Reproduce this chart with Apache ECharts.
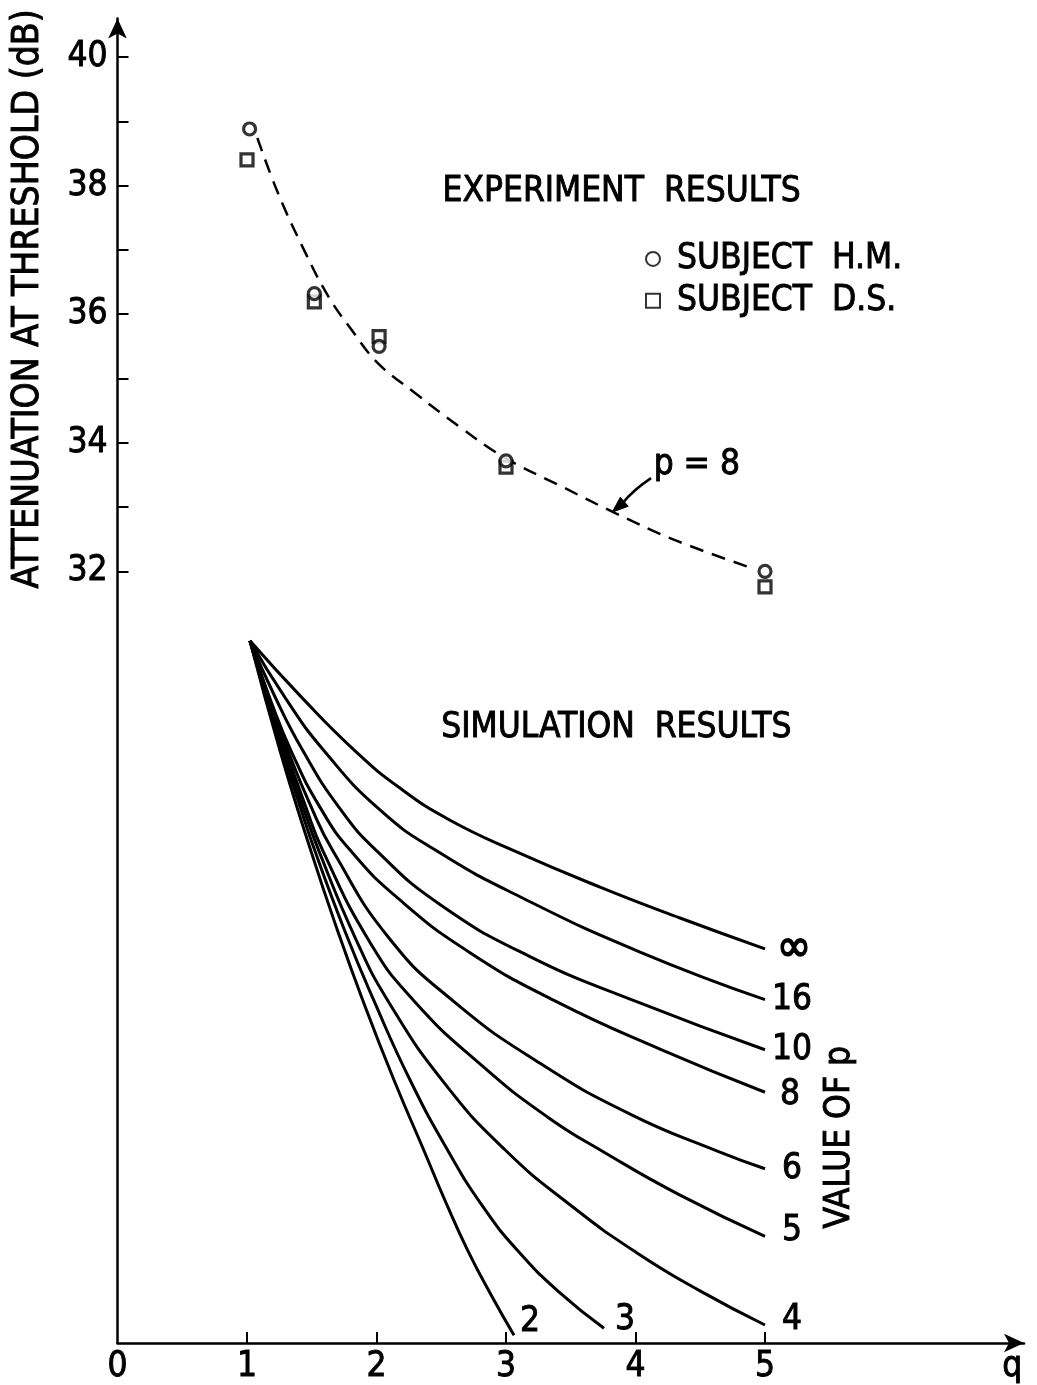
<!DOCTYPE html>
<html>
<head>
<meta charset="utf-8">
<script src="https://cdn.jsdelivr.net/npm/echarts@6/dist/echarts.min.js"></script>
<style>
html,body{margin:0;padding:0;background:#fff;}
#c{width:1037px;height:1385px;}
</style>
</head>
<body>
<div id="c"></div>
<script>
// ---------- axis ticks / labels ----------
const xTickValues  = [1, 2, 3, 4, 5];
const xLabelValues = [0, 1, 2, 3, 4, 5];
const xAxisLetter = 'q';
const xAxisLetterAt = 6.91;
const yTickValues  = [32, 33, 34, 35, 36, 37, 38, 39, 40];
const yLabelValues = [32, 34, 36, 38, 40];
const yAxisTitle = 'ATTENUATION AT THRESHOLD (dB)';

// ---------- experiment results ----------
const subjectHM = [[1.02, 38.88], [1.52, 36.32], [2.02, 35.50], [3.00, 33.72], [5.00, 32.00]];
const subjectDS = [[1.00, 38.40], [1.52, 36.19], [2.02, 35.65], [3.00, 33.62], [5.00, 31.76]];
const fitP8 = [[1.08, 38.74], [1.24, 37.88], [1.44, 37.00], [1.63, 36.27], [1.81, 35.75],
               [2.01, 35.24], [2.30, 34.77], [2.64, 34.25], [2.98, 33.78], [3.44, 33.31],
               [3.84, 32.91], [4.30, 32.49], [4.90, 32.05]];

// ---------- simulation results (value of p) ----------
const simLabels = ['\u221E', '16', '10', '8', '6', '5', '4', '3', '2'];
const simPinf = [[1.023,30.92],[1.413,30.06],[1.834,29.21],[2.181,28.63],[2.568,28.13],[3.069,27.65],[3.726,27.09],[4.344,26.61],[5.0,26.13]];
const simP16  = [[1.023,30.92],[1.293,30.04],[1.595,29.21],[2.027,28.29],[2.467,27.65],[3.108,26.94],[4.035,26.08],[5.0,25.34]];
const simP10  = [[1.023,30.92],[1.216,30.05],[1.432,29.21],[1.718,28.31],[2.004,27.65],[2.490,26.82],[3.185,26.01],[4.019,25.30],[5.0,24.56]];
const simP8   = [[1.023,30.92],[1.178,30.02],[1.340,29.21],[1.564,28.33],[1.803,27.65],[2.181,26.89],[2.722,26.07],[3.378,25.32],[4.189,24.57],[5.0,23.90]];
const simP6   = [[1.023,30.92],[1.178,29.98],[1.317,29.21],[1.486,28.38],[1.664,27.65],[2.104,26.28],[2.598,25.31],[3.263,24.35],[3.958,23.56],[4.637,22.98],[5.0,22.71]];
const simP5   = [[1.023,30.92],[1.162,30.02],[1.301,29.21],[1.448,28.37],[1.587,27.65],[1.950,26.23],[2.290,25.32],[2.799,24.34],[3.317,23.52],[3.764,22.96],[4.344,22.30],[5.0,21.66]];
const simP4   = [[1.023,30.92],[1.154,30.05],[1.286,29.21],[1.425,28.38],[1.556,27.65],[1.834,26.31],[2.089,25.32],[2.529,24.03],[3.0,22.99],[3.494,22.15],[4.012,21.40],[4.498,20.81],[5.0,20.28]];
const simP3   = [[1.023,30.92],[1.147,30.05],[1.270,29.21],[1.394,28.44],[1.525,27.65],[1.757,26.40],[1.981,25.32],[2.259,24.09],[2.552,22.99],[2.822,22.12],[3.093,21.43],[3.417,20.78],[3.757,20.23]];
const simP2   = [[1.023,30.92],[1.255,29.21],[1.494,27.65],[1.695,26.44],[1.896,25.32],[2.135,24.09],[2.367,22.99],[2.537,22.18],[2.707,21.43],[2.884,20.75],[3.062,20.12]];
const simCurves = [simPinf, simP16, simP10, simP8, simP6, simP5, simP4, simP3, simP2];

// ---------- styling ----------
const FONT = "'Liberation Sans Narrow','DejaVu Sans Condensed','Roboto Condensed',Roboto,sans-serif";
const INK = '#000';
const FS = 35;
const FW = 'normal';
const STROKE = 0.9;   // slight outline to thicken the lettering
const txt = {color: INK, fontFamily: FONT, fontWeight: FW, fontSize: FS,
             textBorderColor: INK, textBorderWidth: STROKE};
const simLabelOffsets = [[7,0],[2,0],[2,0],[10,3],[12,0],[12,-5],[12,-5],[6,-8],[1,-13]];
const simLabelSizes = [46, FS, FS, FS, FS, FS, FS, FS, FS];

const chart = echarts.init(document.getElementById('c'), null, {renderer: 'canvas'});

const simSeries = simCurves.map((d, i) => ({
  type: 'line', name: 'p = ' + simLabels[i], data: d,
  smooth: 0.5, symbol: 'none', silent: true,
  lineStyle: {color: INK, width: 3},
  endLabel: Object.assign({show: true, formatter: simLabels[i], distance: 5, offset: simLabelOffsets[i]},
                          txt, {fontSize: simLabelSizes[i], textBorderWidth: i === 0 ? 1.6 : STROKE})
}));

chart.setOption({
  animation: false,
  backgroundColor: '#fff',
  grid: {left: 117.5, right: 13, top: 18.4, bottom: 42, containLabel: false},
  xAxis: {
    type: 'value', min: 0, max: 7, interval: 1,
    splitLine: {show: false},
    axisLine: {show: true, onZero: false, symbol: ['none', 'arrow'], symbolSize: [14, 20],
               lineStyle: {color: INK, width: 2.5}},
    axisTick: {show: true, inside: true, length: 11, customValues: xTickValues,
               lineStyle: {color: INK, width: 2}},
    axisLabel: Object.assign({show: true, customValues: xLabelValues.concat([xAxisLetterAt]),
                formatter: v => (Math.abs(v - xAxisLetterAt) < 1e-6 ? xAxisLetter : String(v)),
                margin: 6}, txt)
  },
  yAxis: {
    type: 'value', min: 20, max: 40.6, interval: 1,
    splitLine: {show: false},
    axisLine: {show: true, onZero: false, symbol: ['none', 'arrow'], symbolSize: [14, 20],
               lineStyle: {color: INK, width: 2.5}},
    axisTick: {show: true, inside: true, length: 11, customValues: yTickValues,
               lineStyle: {color: INK, width: 2}},
    axisLabel: Object.assign({show: true, customValues: yLabelValues, margin: 10}, txt)
  },
  legend: {
    data: ['SUBJECT  H.M.', 'SUBJECT  D.S.'], orient: 'vertical', left: 640, top: 236,
    itemGap: 6, itemWidth: 14, itemHeight: 14, selectedMode: false,
    textStyle: Object.assign({padding: [0, 0, 0, 12]}, txt)
  },
  series: [
    {type: 'line', name: 'fit p = 8', data: fitP8, smooth: 0.4, symbol: 'none', silent: true,
     lineStyle: {color: INK, width: 2.5, type: [14, 9]}},
    {type: 'scatter', name: 'SUBJECT  H.M.', data: subjectHM, symbol: 'circle', symbolSize: 12,
     itemStyle: {color: '#fff', borderColor: INK, borderWidth: 3.2}, z: 5},
    {type: 'scatter', name: 'SUBJECT  D.S.', data: subjectDS, symbol: 'rect', symbolSize: 12,
     itemStyle: {color: '#fff', borderColor: INK, borderWidth: 3.2}, z: 4}
  ].concat(simSeries)
});

// ---------- annotations anchored in data coordinates ----------
const P = (x, y) => chart.convertToPixel({gridIndex: 0}, [x, y]);
const expTitle = P(2.51, 37.9);     // "EXPERIMENT RESULTS" left / middle
const simTitle = P(2.50, 29.57);    // "SIMULATION RESULTS"
const pLabel   = P(4.14, 33.65);    // "p = 8"
const arrowTail = P(4.12, 33.45);
const arrowCtrl = P(3.98, 33.20);
const arrowTip  = P(3.82, 32.92);
const valueOfP  = P(5.58, 23.2);
const yTitlePos = [28, 299];

// arrow head
const dx = arrowTip[0] - arrowCtrl[0], dy = arrowTip[1] - arrowCtrl[1];
const L = Math.hypot(dx, dy), ux = dx / L, uy = dy / L;
const headLen = 16, headW = 6;
const bx = arrowTip[0] - ux * headLen, by = arrowTip[1] - uy * headLen;
const head = [[arrowTip[0], arrowTip[1]], [bx - uy * headW, by + ux * headW], [bx + uy * headW, by - ux * headW]];
const shaftEnd = [arrowTip[0] - ux * (headLen - 2), arrowTip[1] - uy * (headLen - 2)];

const gText = (s, size, extra) => Object.assign({text: s, fill: INK, stroke: INK, lineWidth: STROKE,
  font: FW + ' ' + size + 'px ' + FONT}, extra || {});

chart.setOption({
  graphic: [
    {type: 'text', x: expTitle[0], y: expTitle[1], style: gText('EXPERIMENT  RESULTS', FS, {align: 'left', verticalAlign: 'middle'})},
    {type: 'text', x: simTitle[0], y: simTitle[1], style: gText('SIMULATION  RESULTS', FS, {align: 'left', verticalAlign: 'middle'})},
    {type: 'text', x: pLabel[0], y: pLabel[1], style: gText('p = 8', FS, {align: 'left', verticalAlign: 'middle'})},
    {type: 'text', x: valueOfP[0], y: valueOfP[1], rotation: Math.PI / 2,
     style: gText('VALUE OF p', FS, {align: 'center', verticalAlign: 'middle'})},
    {type: 'text', x: yTitlePos[0], y: yTitlePos[1], rotation: Math.PI / 2,
     style: gText(yAxisTitle, 37, {align: 'center', verticalAlign: 'middle'})},
    {type: 'bezierCurve', shape: {x1: arrowTail[0], y1: arrowTail[1], x2: shaftEnd[0], y2: shaftEnd[1],
      cpx1: arrowCtrl[0], cpy1: arrowCtrl[1] - 4}, style: {stroke: INK, lineWidth: 2.5, fill: null}},
    {type: 'polygon', shape: {points: head}, style: {fill: INK, stroke: INK, lineWidth: 1}}
  ]
});
</script>
</body>
</html>
